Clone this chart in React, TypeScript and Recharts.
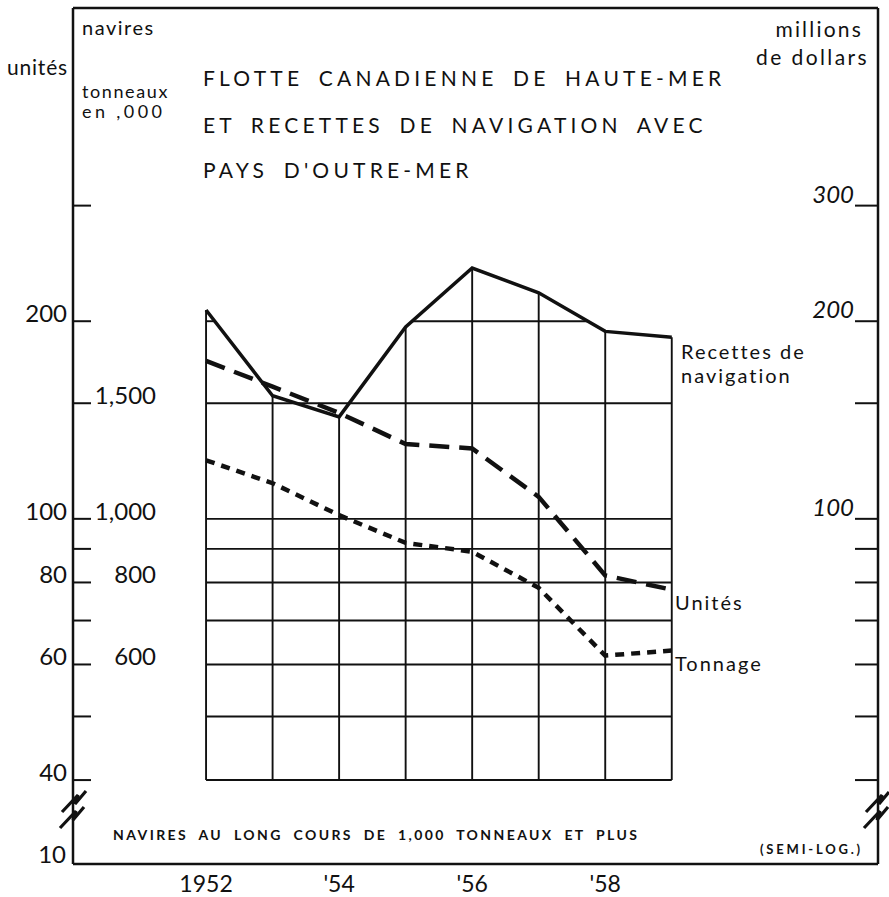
import { ComposedChart, Line, XAxis, YAxis, ReferenceLine } from 'recharts';

// years on the horizontal axis
const years = [1952, 1953, 1954, 1955, 1956, 1957, 1958, 1959];
// recettes de navigation, millions de dollars
const recettes = [208, 154, 143, 196, 241, 221, 193, 189];
// navires, unités
const unites = [174, 159, 145, 130, 128, 108, 82, 78];
// tonneaux en milliers
const tonnage = [1228, 1133, 1013, 919, 891, 785, 619, 630];

// semi-log scale shared by the three axes (tonnage is x10)
const scaleMin = 29.8;
const scaleMax = 600;
const scaleTicks = [40, 50, 60, 70, 80, 90, 100, 150, 200, 300];
const gridLevels = [40, 50, 60, 70, 80, 90, 100, 150];
const topGridLevel = 200;
const unitLabels = [40, 60, 80, 100, 200];
const tonnageTicks = [600, 800, 1000, 1500];
const dollarLabels = [100, 200, 300];
const yearTicks = [1952, 1954, 1956, 1958];

const data = years.map((year, i) => ({
  year,
  recettes: recettes[i],
  unites: unites[i],
  tonnage: tonnage[i],
}));

const INK = '#111';
const FONT = 'Lato, "DejaVu Sans", sans-serif';

// parts of the top grid line that lie under the recettes curve
function spansUnderCurve(level: number): [number, number][] {
  const spans: [number, number][] = [];
  let start: number | null = recettes[0] >= level ? years[0] : null;
  for (let i = 0; i < years.length - 1; i++) {
    const a = recettes[i];
    const b = recettes[i + 1];
    if ((a - level) * (b - level) < 0) {
      const t = Math.log(level / a) / Math.log(b / a);
      const x = years[i] + t * (years[i + 1] - years[i]);
      if (start === null) start = x;
      else {
        spans.push([start, x]);
        start = null;
      }
    }
  }
  if (start !== null) spans.push([start, years[years.length - 1]]);
  return spans;
}

function fmtThousands(v: number) {
  return v >= 1000 ? `${Math.floor(v / 1000)},${String(v % 1000).padStart(3, '0')}` : String(v);
}

function LeftTick(props: any) {
  const { x, y, payload } = props;
  const v = payload.value;
  const t = tonnageTicks.find((tt) => tt === v * 10);
  return (
    <g>
      <line x1={x} x2={x + 18} y1={y} y2={y} stroke={INK} strokeWidth={2} />
      {unitLabels.includes(v) && (
        <text x={x - 6} y={y + 1} textAnchor="end" fontSize={24} fontFamily={FONT} fill={INK}>
          {v}
        </text>
      )}
      {t !== undefined && (
        <text x={x + 83} y={y + 1} textAnchor="end" fontSize={24} fontFamily={FONT} fill={INK}>
          {fmtThousands(t)}
        </text>
      )}
    </g>
  );
}

function RightTick(props: any) {
  const { x, y, payload } = props;
  const v = payload.value;
  return (
    <g>
      <line x1={x - 23} x2={x} y1={y} y2={y} stroke={INK} strokeWidth={2} />
      {dollarLabels.includes(v) && (
        <text
          x={x - 24}
          y={y - 3}
          textAnchor="end"
          fontSize={24}
          fontStyle="italic"
          fontFamily={FONT}
          fill={INK}
        >
          {v}
        </text>
      )}
    </g>
  );
}

const yearLabel = (v: number) => (v === years[0] ? String(v) : `'${String(v).slice(2)}`);

export default function App() {
  const gridStroke = { stroke: INK, strokeWidth: 1.9 };
  return (
    <div style={{ position: 'absolute', left: 0, top: 0, width: 889, height: 897, background: '#fff' }}>
      <ComposedChart width={889} height={897} data={data} margin={{ top: 8, right: 1, bottom: 0, left: 8 }}>
        <XAxis
          dataKey="year"
          type="number"
          domain={[1950, 1962.1]}
          allowDataOverflow
          ticks={yearTicks}
          tickFormatter={yearLabel}
          tickLine={false}
          tickSize={0}
          tickMargin={12}
          height={33}
          axisLine={{ stroke: INK, strokeWidth: 2.5 }}
          tick={{ fill: INK, fontSize: 23, fontFamily: FONT }}
        />
        <YAxis
          yAxisId="units"
          orientation="left"
          scale="log"
          domain={[scaleMin, scaleMax]}
          allowDataOverflow
          ticks={scaleTicks}
          interval={0}
          width={65}
          tickSize={0}
          tickMargin={0}
          tickLine={false}
          axisLine={{ stroke: INK, strokeWidth: 2.5 }}
          tick={<LeftTick />}
        />
        <YAxis
          yAxisId="dollars"
          orientation="right"
          scale="log"
          domain={[scaleMin, scaleMax]}
          allowDataOverflow
          ticks={scaleTicks}
          interval={0}
          width={10}
          tickSize={0}
          tickMargin={0}
          tickLine={false}
          axisLine={{ stroke: INK, strokeWidth: 2.5 }}
          tick={<RightTick />}
        />
        <YAxis
          yAxisId="tonnes"
          hide
          width={0}
          scale="log"
          domain={[scaleMin * 10, scaleMax * 10]}
          allowDataOverflow
        />

        <ReferenceLine yAxisId="units" y={scaleMax} stroke={INK} strokeWidth={2.5} ifOverflow="visible" />

        {gridLevels.map((lv) => (
          <ReferenceLine
            key={`h${lv}`}
            yAxisId="units"
            segment={[
              { x: years[0], y: lv },
              { x: years[years.length - 1], y: lv },
            ]}
            {...gridStroke}
          />
        ))}
        {spansUnderCurve(topGridLevel).map(([a, b], i) => (
          <ReferenceLine
            key={`top${i}`}
            yAxisId="units"
            segment={[
              { x: a, y: topGridLevel },
              { x: b, y: topGridLevel },
            ]}
            {...gridStroke}
          />
        ))}
        {years.map((yr, i) => (
          <ReferenceLine
            key={`v${yr}`}
            yAxisId="dollars"
            segment={[
              { x: yr, y: gridLevels[0] },
              { x: yr, y: recettes[i] },
            ]}
            {...gridStroke}
          />
        ))}

        <Line
          yAxisId="dollars"
          dataKey="recettes"
          type="linear"
          stroke={INK}
          strokeWidth={3.5}
          dot={false}
          strokeLinejoin="miter"
          isAnimationActive={false}
        />
        <Line
          yAxisId="units"
          dataKey="unites"
          type="linear"
          stroke={INK}
          strokeWidth={4.5}
          strokeDasharray="20 10"
          dot={false}
          isAnimationActive={false}
        />
        <Line
          yAxisId="tonnes"
          dataKey="tonnage"
          type="linear"
          stroke={INK}
          strokeWidth={4.5}
          strokeDasharray="9 7"
          dot={false}
          isAnimationActive={false}
        />
      </ComposedChart>

      <svg
        width={889}
        height={897}
        style={{ position: 'absolute', left: 0, top: 0, pointerEvents: 'none' }}
        fontFamily={FONT}
        fill={INK}
      >
        <text x={82} y={35} fontSize={20} letterSpacing={1.5}>navires</text>
        <text x={7} y={75} fontSize={21} letterSpacing={0.8}>unités</text>
        <text x={82} y={98} fontSize={18} letterSpacing={1.6}>tonneaux</text>
        <text x={82} y={118} fontSize={18} letterSpacing={3.4}>en ,000</text>
        <text x={863} y={37} fontSize={21} textAnchor="end" letterSpacing={2.2}>millions</text>
        <text x={869} y={65} fontSize={21} textAnchor="end" letterSpacing={2.4}>de dollars</text>

        <g fontSize={21} letterSpacing={4.2} wordSpacing={6}>
          <text x={203} y={86}>FLOTTE CANADIENNE DE HAUTE-MER</text>
          <text x={203} y={133}>ET RECETTES DE NAVIGATION AVEC</text>
          <text x={203} y={178}>PAYS D'OUTRE-MER</text>
        </g>

        <g fontSize={20} letterSpacing={2}>
          <text x={681} y={359}>Recettes de</text>
          <text x={681} y={383}>navigation</text>
          <text x={675} y={610}>Unités</text>
          <text x={675} y={671}>Tonnage</text>
        </g>

        <text x={113} y={840} fontSize={14} fontWeight={700} letterSpacing={2.4} wordSpacing={5}>
          NAVIRES AU LONG COURS DE 1,000 TONNEAUX ET PLUS
        </text>
        <text x={760} y={854} fontSize={13} fontWeight={700} letterSpacing={2.8}>(SEMI-LOG.)</text>

        <text x={66} y={863} fontSize={24} textAnchor="end">10</text>

        <g stroke={INK} strokeWidth={3.2} fill="none" strokeLinejoin="miter">
          <path d="M 62 812 L 78 795 L 75 804 L 86 791" />
          <path d="M 60 828 L 76 811 L 73 820 L 84 807" />
          <path d="M 866 812 L 882 795 L 879 804 L 889 792" />
          <path d="M 864 828 L 880 811 L 877 820 L 888 807" />
        </g>
      </svg>
    </div>
  );
}
